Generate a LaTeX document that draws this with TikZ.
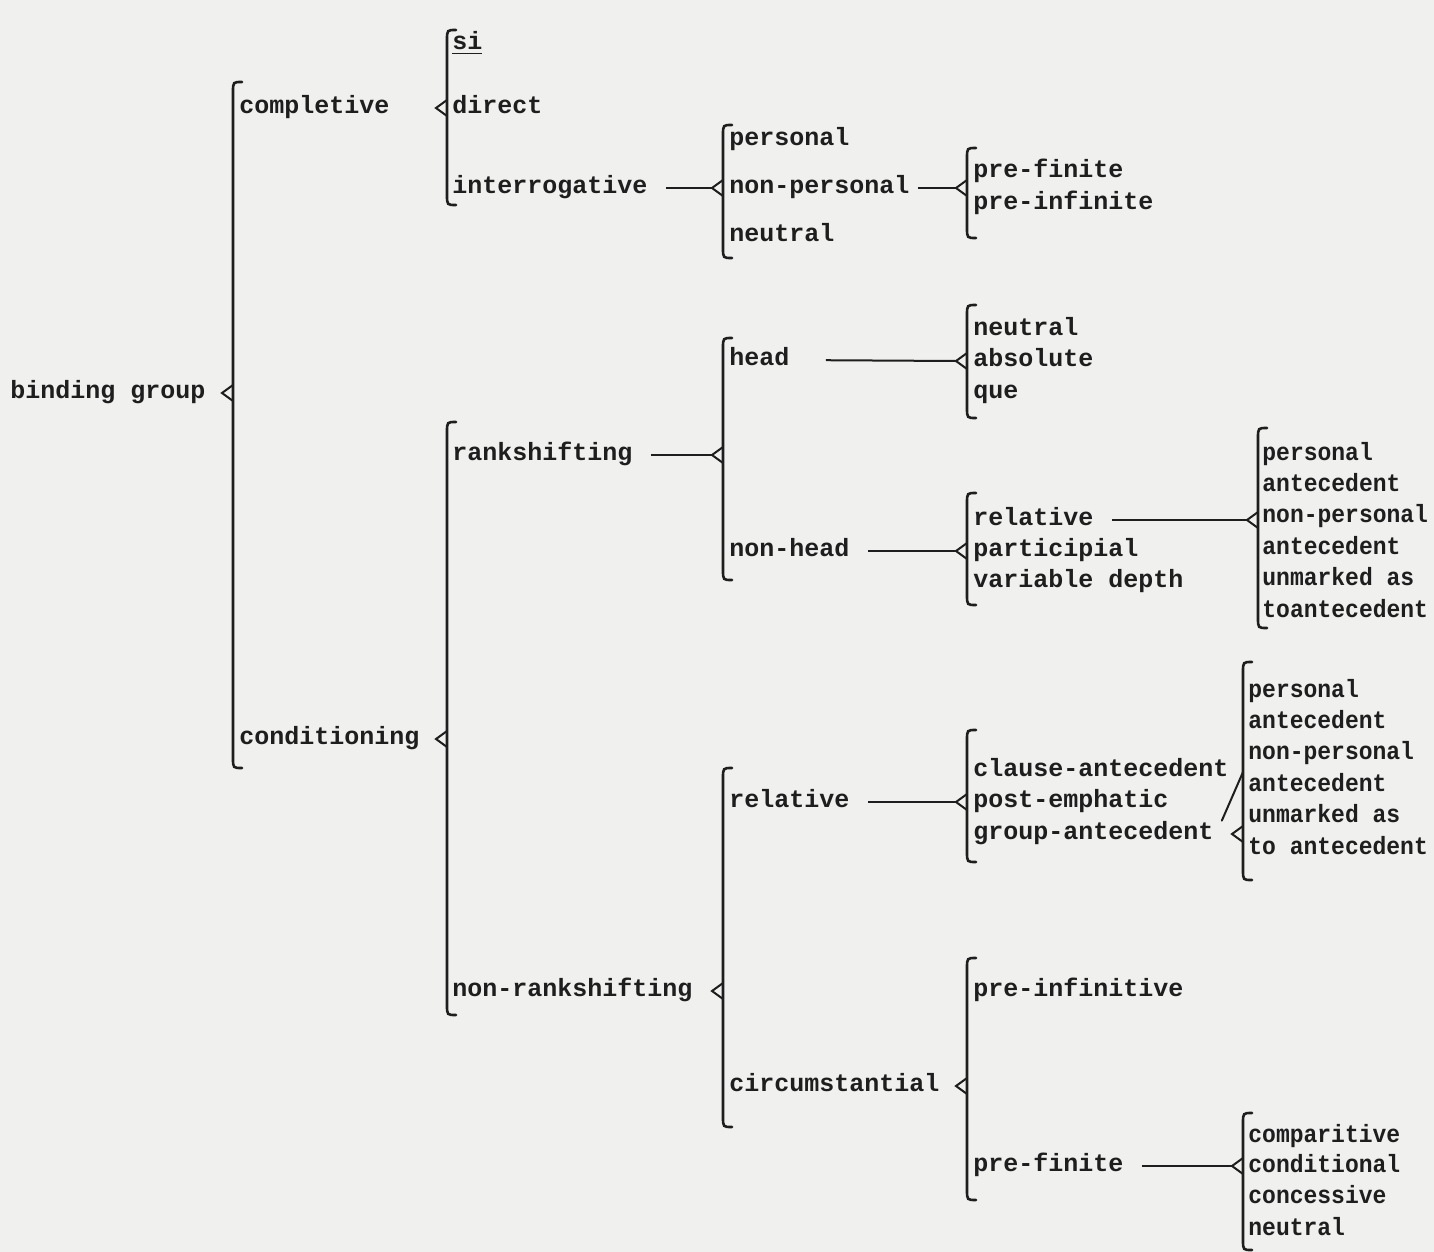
\documentclass[tikz,border=0pt]{standalone}
\usepackage{fontspec}
\newfontfamily\typed{Liberation Mono}
\definecolor{ink}{HTML}{1E1E1E}
\definecolor{paper}{HTML}{F0F0EE}

\tikzset{
  opt/.style={anchor=west, inner sep=0pt, text height=6pt, text depth=1pt,
    text=ink, font=\typed\bfseries\fontsize{12.5}{15}\selectfont},
  brk/.style={draw=ink, line width=1.3pt, line cap=round},
  link/.style={draw=ink, line width=1pt, shorten <=9pt},
}
% system bracket: name, x of line, top, bottom, entry height
\newcommand\sysbrack[5]{%
  \draw[brk] (#2+9,#3) .. controls (#2,#3) .. (#2,#3+10) -- (#2,#4-10) .. controls (#2,#4) .. (#2+9,#4);
  \draw[brk,line width=1pt] (#2,#5-8) -- (#2-11,#5) -- (#2,#5+8);
  \coordinate (#1) at (#2-11,#5);
}
% typed close to the edge of the page
\newcommand\sq[1]{\scalebox{0.92}[1]{#1}}

\begin{document}
\begin{tikzpicture}[x=0.5pt,y=-0.5pt]
  \fill[paper] (0,0) rectangle (1434,1252);
  \useasboundingbox (0,0) rectangle (1434,1252);
%first column
  \node[opt] (bg) at (10,393) {binding group};
  \node[opt] (compl) at (239,108) {completive};
  \node[opt] (cond) at (239,739) {conditioning};
  \sysbrack{s0}{233}{82}{768}{393}
%completive
  \node[opt] (si) at (452,45) {\underline{si}};
  \node[opt] (direct) at (452,108) {direct};
  \node[opt] (interr) at (452,188) {interrogative};
  \sysbrack{s1}{447}{30}{205}{108}
  \node[opt] (pers) at (729,141) {personal};
  \node[opt] (nonpers) at (729,188) {non-personal};
  \node[opt] (neut) at (729,236) {neutral};
  \sysbrack{s2}{723}{125}{258}{188}
  \draw[link] (interr.east) -- (s2);
  \node[opt] (prefin) at (973,172) {pre-finite};
  \node[opt] (preinf) at (973,204) {pre-infinite};
  \sysbrack{s3}{967}{148}{238}{188}
  \draw[link,shorten <=4pt] (nonpers.east) -- (s3);
%conditioning
  \node[opt] (rank) at (452,455) {rankshifting};
  \node[opt] (nonrank) at (452,991) {non-rankshifting};
  \sysbrack{s4}{447}{422}{1015}{739}
  \node[opt] (head) at (729,360) {head};
  \node[opt] (nonhead) at (729,551) {non-head};
  \sysbrack{s5}{723}{338}{580}{455}
  \draw[link] (rank.east) -- (s5);
  \node[opt] (hneut) at (973,330) {neutral};
  \node[opt] (absol) at (973,361) {absolute};
  \node[opt] (que) at (973,393) {que};
  \sysbrack{s6}{967}{305}{418}{361}
  \draw[link,shorten <=18pt] (head.east) -- (s6);
  \node[opt] (rela) at (973,520) {relative};
  \node[opt] (partic) at (973,551) {participial};
  \node[opt] (vardepth) at (973,582) {variable depth};
  \sysbrack{s7}{967}{493}{605}{551}
  \draw[link] (nonhead.east) -- (s7);
  \node[opt] (ra1) at (1262,455) {\sq{personal}};
  \node[opt] (ra2) at (1262,486) {\sq{antecedent}};
  \node[opt] (ra3) at (1262,517) {\sq{non-personal}};
  \node[opt] (ra4) at (1262,549) {\sq{antecedent}};
  \node[opt] (ra5) at (1262,580) {\sq{unmarked as}};
  \node[opt] (ra6) at (1262,612) {\sq{toantecedent}};
  \sysbrack{s8}{1258}{428}{628}{520}
  \draw[link] (rela.east) -- (s8);
%non-rankshifting
  \node[opt] (relb) at (729,802) {relative};
  \node[opt] (circ) at (729,1086) {circumstantial};
  \sysbrack{s9}{723}{768}{1127}{991}
  \node[opt] (clause) at (973,771) {clause-antecedent};
  \node[opt] (postemph) at (973,802) {post-emphatic};
  \node[opt] (groupant) at (973,834) {group-antecedent};
  \sysbrack{s10}{967}{730}{862}{802}
  \draw[link] (relb.east) -- (s10);
  \node[opt] (rb1) at (1248,692) {\sq{personal}};
  \node[opt] (rb2) at (1248,723) {\sq{antecedent}};
  \node[opt] (rb3) at (1248,754) {\sq{non-personal}};
  \node[opt] (rb4) at (1248,786) {\sq{antecedent}};
  \node[opt] (rb5) at (1248,817) {\sq{unmarked as}};
  \node[opt] (rb6) at (1248,849) {\sq{to antecedent}};
  \sysbrack{s11}{1243}{662}{880}{834}
  \coordinate (slashtop) at (1243,772);
  \draw[brk,line width=1pt] ([xshift=4pt,yshift=3pt]groupant.north east) -- (slashtop);
  \node[opt] (preinfv) at (973,991) {pre-infinitive};
  \node[opt] (prefinb) at (973,1166) {pre-finite};
  \sysbrack{s12}{967}{958}{1200}{1086}
  \node[opt] (compar) at (1248,1137) {\sq{comparitive}};
  \node[opt] (condit) at (1248,1167) {\sq{conditional}};
  \node[opt] (conces) at (1248,1198) {\sq{concessive}};
  \node[opt] (cneut) at (1248,1230) {\sq{neutral}};
  \sysbrack{s13}{1243}{1113}{1250}{1166}
  \draw[link] (prefinb.east) -- (s13);
\end{tikzpicture}
\end{document}
